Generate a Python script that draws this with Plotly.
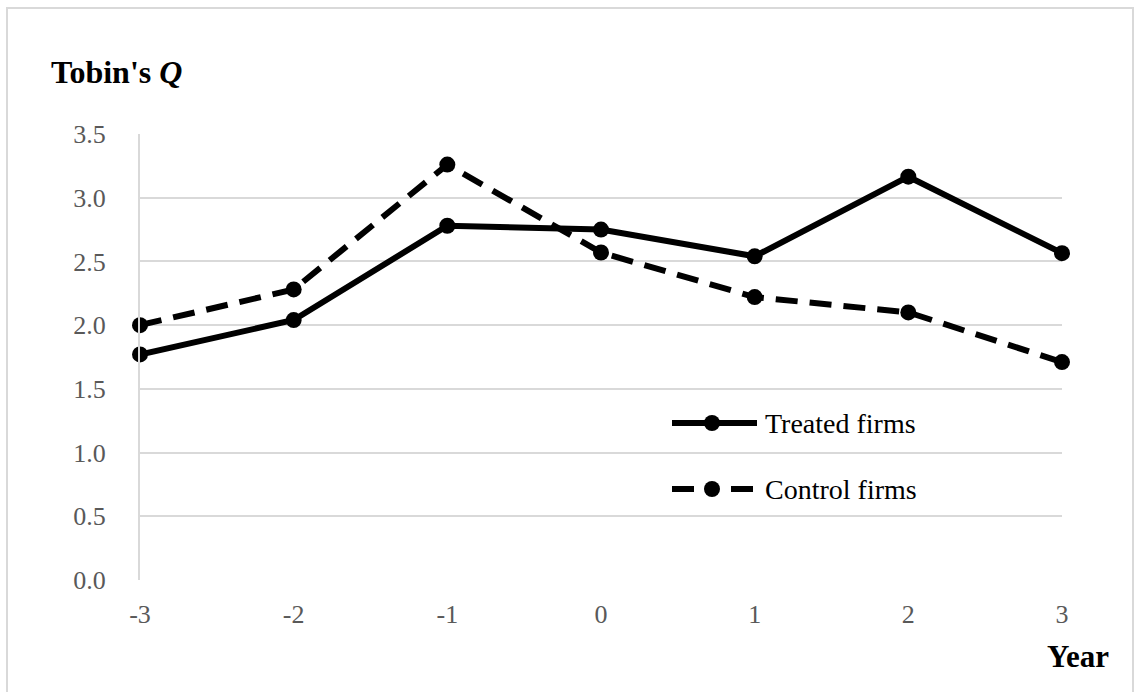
import plotly.graph_objects as go

years = [-3, -2, -1, 0, 1, 2, 3]
treated = [1.77, 2.04, 2.78, 2.75, 2.54, 3.165, 2.565]
control = [2.00, 2.28, 3.26, 2.57, 2.22, 2.10, 1.71]
series_names = ["Treated firms", "Control firms"]
y_ticks = [0.0, 0.5, 1.0, 1.5, 2.0, 2.5, 3.0, 3.5]

W, H = 1141, 692
L, R, T, B = 140, 1062, 134, 580  # plot area in pixels


def px(x):
    return (x - L) / (R - L)


def py(y):
    return (B - y) / (B - T)


GRID = "#d9d9d9"
FONT = "Liberation Serif, Times New Roman, serif"
LW = 6
MS = 16

fig = go.Figure()
fig.add_trace(go.Scatter(
    x=years, y=treated, name=series_names[0], mode="lines+markers",
    line=dict(color="black", width=LW), marker=dict(size=MS, color="black"),
    cliponaxis=False, showlegend=False))
fig.add_trace(go.Scatter(
    x=years, y=control, name=series_names[1], mode="lines+markers",
    line=dict(color="black", width=LW, dash="22px,12px"),
    marker=dict(size=MS, color="black"),
    cliponaxis=False, showlegend=False))

shapes = []
# outer frame
shapes.append(dict(type="rect", xref="paper", yref="paper",
                   x0=px(7), x1=px(1133), y0=py(8), y1=py(720),
                   line=dict(color=GRID, width=2), layer="below"))
# legend keys
ly1, ly2 = 423, 489
shapes.append(dict(type="line", xref="paper", yref="paper",
                   x0=px(672), x1=px(757), y0=py(ly1), y1=py(ly1),
                   line=dict(color="black", width=LW)))
for a, b in [(672, 694), (731, 753)]:
    shapes.append(dict(type="line", xref="paper", yref="paper",
                       x0=px(a), x1=px(b), y0=py(ly2), y1=py(ly2),
                       line=dict(color="black", width=LW)))
for yy in (ly1, ly2):
    shapes.append(dict(type="circle", xref="paper", yref="paper",
                       xsizemode="pixel", ysizemode="pixel",
                       xanchor=px(712), yanchor=py(yy),
                       x0=-8, x1=8, y0=-8, y1=8,
                       fillcolor="black", line=dict(color="black", width=0)))

annotations = [
    dict(text="<b>Tobin's <i>Q</i></b>", xref="paper", yref="paper",
         x=px(49), y=py(72), xanchor="left", yanchor="middle",
         showarrow=False, font=dict(family=FONT, size=32, color="black")),
    dict(text="<b>Year</b>", xref="paper", yref="paper",
         x=px(1078), y=py(656), xanchor="center", yanchor="middle",
         showarrow=False, font=dict(family=FONT, size=31, color="black")),
    dict(text=series_names[0], xref="paper", yref="paper",
         x=px(763), y=py(ly1), xanchor="left", yanchor="middle",
         showarrow=False, font=dict(family=FONT, size=28, color="black")),
    dict(text=series_names[1], xref="paper", yref="paper",
         x=px(763), y=py(ly2), xanchor="left", yanchor="middle",
         showarrow=False, font=dict(family=FONT, size=28, color="black")),
]

fig.update_layout(
    width=W, height=H,
    margin=dict(l=L, r=W - R, t=T, b=H - B, pad=0),
    paper_bgcolor="white", plot_bgcolor="white",
    font=dict(family=FONT, size=26, color="#595959"),
    shapes=shapes, annotations=annotations,
    showlegend=False,
    xaxis=dict(range=[-3, 3], tickvals=years, ticktext=[str(v) for v in years],
               showgrid=False, zeroline=False, showline=False,
               ticks="", ticklabelstandoff=16,
               tickfont=dict(family=FONT, size=26, color="#595959")),
    yaxis=dict(range=[0, 3.5], tickvals=y_ticks,
               ticktext=[f"{v:.1f}" for v in y_ticks],
               showgrid=True, gridcolor=GRID, gridwidth=2,
               zeroline=False, showline=True, linecolor=GRID, linewidth=2,
               ticks="", ticklabelstandoff=27,
               tickfont=dict(family=FONT, size=26, color="#595959")),
)

fig.write_html("out.html")
